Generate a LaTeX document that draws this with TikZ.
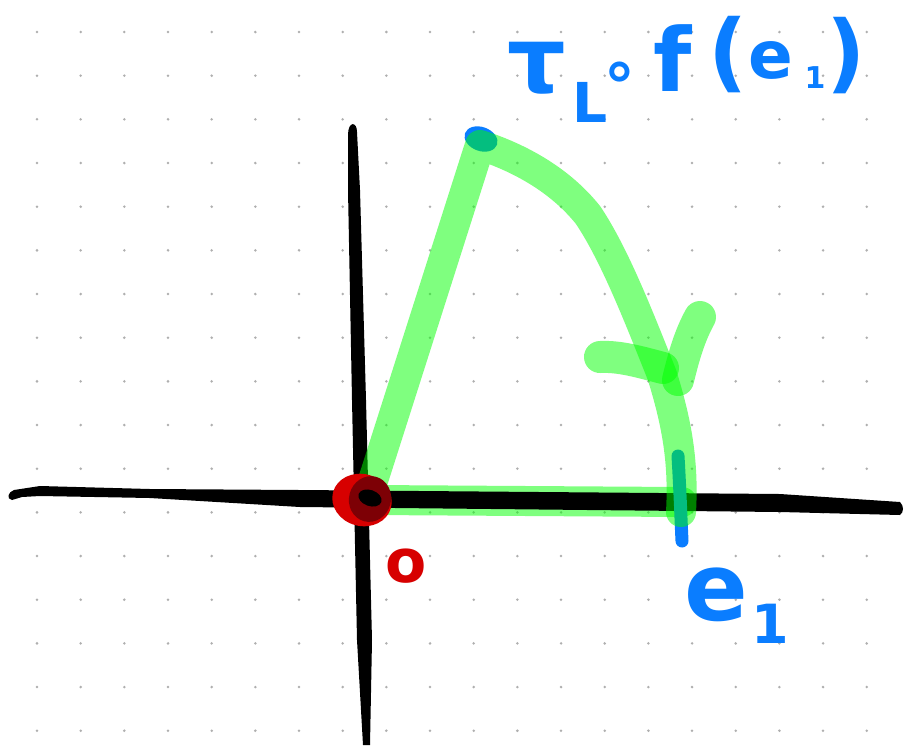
\documentclass[tikz,border=0pt]{standalone}
\usepackage{fontspec}
\setmainfont{DejaVu Sans}
\definecolor{penblue}{RGB}{10,125,255}
\definecolor{pengreen}{RGB}{0,255,0}
\definecolor{penred}{RGB}{215,0,0}
\definecolor{darkred}{RGB}{125,0,5}
\definecolor{dotgray}{RGB}{175,175,175}
\tikzset{
  hl/.style={pengreen, opacity=0.5, line width=30pt, line cap=round, line join=round},
  bluetxt/.style={penblue, inner sep=0pt, font=\bfseries},
  redtxt/.style={penred, inner sep=0pt, font=\bfseries}
}
\begin{document}
\begin{tikzpicture}[x=1pt,y=-1pt]
\useasboundingbox (0,0) rectangle (905,748);
\fill[white] (0,0) rectangle (905,748);
% dot grid
\foreach \i in {0,...,19}{
  \foreach \j in {0,...,16}{
    \fill[dotgray] ({37+43.67*\i},{32+43.67*\j}) circle (1.4);
  }
}
% bottom green stroke (under axis)
\draw[hl] (372,500) -- (682,502);
% horizontal axis
\fill[black] (12,500) .. controls (6,499) and (8,492) .. (14,490)
  -- (40,486) -- (150,489) -- (300,490) -- (780,494) -- (900,502)
  .. controls (904,506) and (904,512) .. (900,515)
  -- (780,512) -- (300,507) -- (150,498) -- (40,496) -- (22,497) -- cycle;
% vertical axis
\fill[black] (348,135) .. controls (348,121) and (357,121) .. (357,132)
  -- (360,190) -- (366,400) -- (372,640) -- (370,745)
  -- (363,745) -- (357,640) -- (352,400) -- (348,190) -- cycle;
% blue marks under green
\fill[penblue] (481,139) ellipse [x radius=17, y radius=12, rotate=-20];
\draw[penblue, line width=13pt, line cap=round] (678,456) .. controls (680,490) and (681,520) .. (682,541);
% green main stroke
\draw[hl] (370,490) -- (480,145)
  .. controls (520,158) and (560,180) .. (588,215)
  .. controls (615,255) and (640,320) .. (662,375)
  .. controls (676,420) and (684,460) .. (681,512);
% green arrowhead strokes
\draw[hl, line width=32pt] (600,357) .. controls (620,356) and (640,362) .. (663,368);
\draw[hl, line width=32pt] (700,317) .. controls (690,335) and (684,355) .. (678,380);
% red origin mark
\fill[penred] (362,500) ellipse [x radius=30, y radius=26, rotate=-15];
\fill[darkred] (370,499) ellipse [x radius=21, y radius=23, rotate=-15];
\fill[black] (370,498) ellipse [x radius=12, y radius=8, rotate=-20];
% labels
\node[redtxt, font=\bfseries\fontsize{60}{60}\selectfont] (olab) at (406,566) {o};
\node[bluetxt, font=\bfseries\fontsize{92}{92}\selectfont] (tau) at (537,68) {τ};
\node[bluetxt, font=\bfseries\fontsize{55}{55}\selectfont] (Lsub) at (590,102) {L};
\node[bluetxt, font=\bfseries\fontsize{62}{62}\selectfont] (circ) at (620,77) {∘};
\node[bluetxt, font=\bfseries\fontsize{88}{88}\selectfont] (flet) at (673,58) {f};
\node[bluetxt, font=\bfseries\fontsize{86}{86}\selectfont] (lpar) at (728,55) {(};
\node[bluetxt, font=\bfseries\fontsize{66}{66}\selectfont] (elet) at (771,60) {e};
\node[bluetxt, font=\bfseries\fontsize{30}{30}\selectfont] (one) at (815,78) {1};
\node[bluetxt, font=\bfseries\fontsize{86}{86}\selectfont] (rpar) at (846,56) {)};
\node[bluetxt, font=\bfseries\fontsize{94}{94}\selectfont] (elab) at (716,595) {e};
\node[bluetxt, font=\bfseries\fontsize{54}{54}\selectfont] (onelab) at (770,624) {1};
\end{tikzpicture}
\end{document}
